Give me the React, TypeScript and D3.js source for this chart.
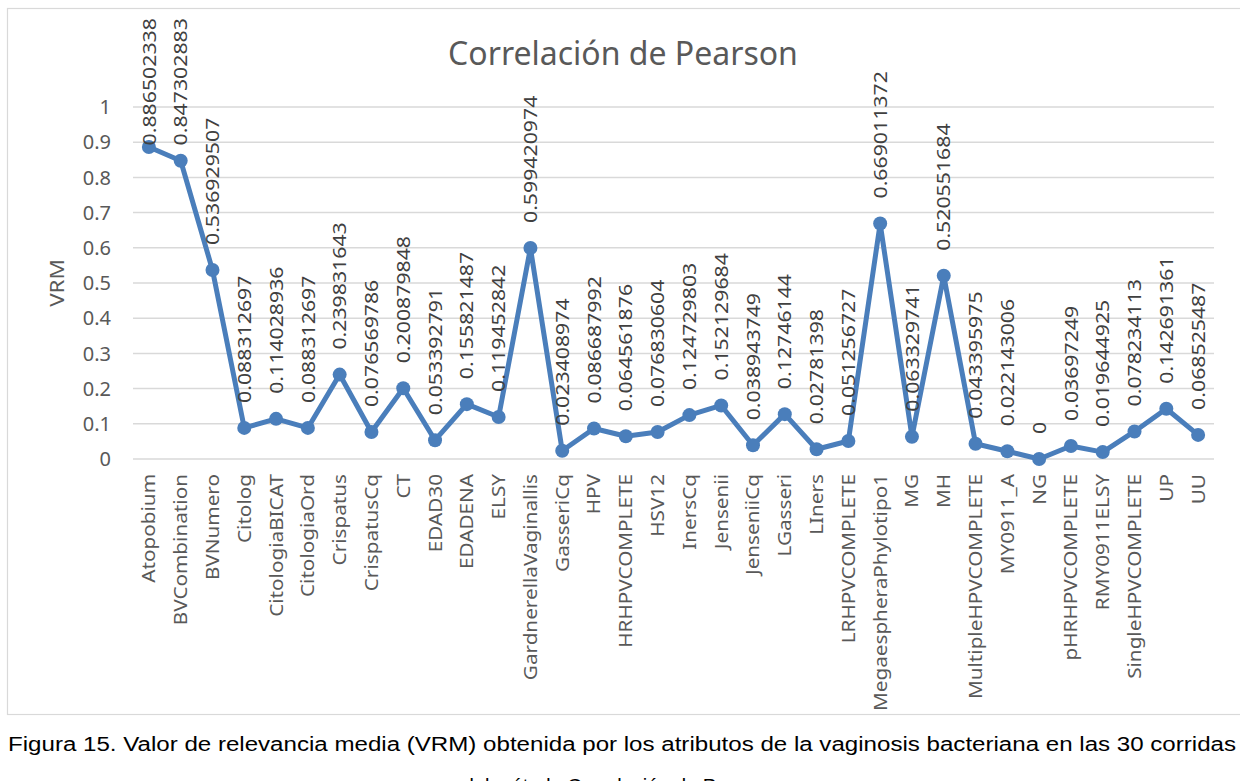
import React, { useEffect, useRef } from "react";
import * as d3 from "d3";

const categories: string[] = [
  "Atopobium", "BVCombination", "BVNumero", "Citolog", "CitologiaBICAT", "CitologiaOrd",
  "Crispatus", "CrispatusCq", "CT", "EDAD30", "EDADENA", "ELSY", "GardnerellaVaginallis",
  "GasseriCq", "HPV", "HRHPVCOMPLETE", "HSV12", "InersCq", "Jensenii", "JenseniiCq",
  "LGasseri", "LIners", "LRHPVCOMPLETE", "MegaespheraPhylotipo1", "MG", "MH",
  "MultipleHPVCOMPLETE", "MY0911_A", "NG", "pHRHPVCOMPLETE", "RMY0911ELSY",
  "SingleHPVCOMPLETE", "UP", "UU",
];

const vrm: number[] = [
  0.886502338, 0.847302883, 0.536929507, 0.088312697, 0.114028936, 0.088312697,
  0.239831643, 0.076569786, 0.200879848, 0.053392791, 0.155821487, 0.119452842,
  0.599420974, 0.023408974, 0.086687992, 0.064561876, 0.076830604, 0.124729803,
  0.152129684, 0.038943749, 0.12746144, 0.02781398, 0.051256727, 0.669011372,
  0.063329741, 0.520551684, 0.043395975, 0.022143006, 0, 0.03697249, 0.019644925,
  0.078234113, 0.142691361, 0.068525487,
];

const vrmLabels: string[] = [
  "0.886502338", "0.847302883", "0.536929507", "0.088312697", "0.114028936", "0.088312697",
  "0.239831643", "0.076569786", "0.200879848", "0.053392791", "0.155821487", "0.119452842",
  "0.599420974", "0.023408974", "0.086687992", "0.064561876", "0.076830604", "0.124729803",
  "0.152129684", "0.038943749", "0.12746144", "0.02781398", "0.051256727", "0.669011372",
  "0.063329741", "0.520551684", "0.043395975", "0.022143006", "0", "0.03697249", "0.019644925",
  "0.078234113", "0.142691361", "0.068525487",
];

const yTicks: number[] = [0, 0.1, 0.2, 0.3, 0.4, 0.5, 0.6, 0.7, 0.8, 0.9, 1];

const chartTitle = "Correlación de Pearson";
const yTitle = "VRM";
const captionLine1 =
  "Figura 15. Valor de relevancia media (VRM) obtenida por los atributos de la vaginosis bacteriana en las 30 corridas";
const captionLine2 = "del método Correlación de Pearson";

const W = 1240;
const H = 781;
const plot = { left: 133, right: 1214, top: 107, bottom: 459 };
const FONT = "'Noto Sans', 'Open Sans', sans-serif";
const CAPTION_FONT = "'Liberation Sans', Arial, sans-serif";
const LINE_COLOR = "#4a7ebb";
// vertical texts are drawn slightly elongated along their reading direction
const VSTRETCH = 1.12;

export default function App() {
  const ref = useRef<SVGSVGElement | null>(null);

  useEffect(() => {
    const svg = d3.select(ref.current);
    svg.selectAll("*").remove();

    const x = d3.scaleBand<string>().domain(categories).range([plot.left, plot.right]);
    const y = d3.scaleLinear().domain([0, 1]).range([plot.bottom, plot.top]);
    const cx = (c: string) => (x(c) as number) + x.bandwidth() / 2;

    // chart frame
    svg.append("rect")
      .attr("x", 7.5).attr("y", 8.5)
      .attr("width", W).attr("height", 706)
      .attr("fill", "#fff").attr("stroke", "#d9d9d9").attr("stroke-width", 1.2);

    // title
    svg.append("text")
      .attr("x", 623).attr("y", 65)
      .attr("text-anchor", "middle")
      .attr("font-family", FONT).attr("font-size", 32)
      .attr("fill", "#595959")
      .text(chartTitle);

    // gridlines
    svg.append("g").selectAll("line").data(yTicks).join("line")
      .attr("x1", plot.left).attr("x2", plot.right)
      .attr("y1", (d) => y(d)).attr("y2", (d) => y(d))
      .attr("stroke", "#d9d9d9").attr("stroke-width", 1.5);

    // y tick labels
    svg.append("g").selectAll("text").data(yTicks).join("text")
      .attr("x", 111).attr("y", (d) => y(d))
      .attr("dy", "0.36em")
      .attr("text-anchor", "end")
      .attr("font-family", FONT).attr("font-size", 20)
      .attr("fill", "#595959")
      .text((d) => d3.format("~g")(d));

    // y axis title
    svg.append("text")
      .attr("transform", `translate(57,${(plot.top + plot.bottom) / 2}) rotate(-90) scale(${VSTRETCH},1)`)
      .attr("text-anchor", "middle").attr("dy", "0.35em")
      .attr("font-family", FONT).attr("font-size", 20)
      .attr("fill", "#595959")
      .text(yTitle);

    // category labels
    svg.append("g").selectAll("text").data(categories).join("text")
      .attr("transform", (d) => `translate(${cx(d)},${plot.bottom + 15}) rotate(-90) scale(${VSTRETCH},1)`)
      .attr("text-anchor", "end").attr("dy", "0.35em")
      .attr("font-family", FONT).attr("font-size", 18.5)
      .attr("fill", "#595959")
      .text((d) => d);

    // series line
    const line = d3.line<number>()
      .x((_, i) => cx(categories[i]))
      .y((d) => y(d));
    svg.append("path")
      .datum(vrm)
      .attr("d", line)
      .attr("fill", "none")
      .attr("stroke", LINE_COLOR).attr("stroke-width", 5)
      .attr("stroke-linejoin", "round");

    // markers
    svg.append("g").selectAll("circle").data(vrm).join("circle")
      .attr("cx", (_, i) => cx(categories[i]))
      .attr("cy", (d) => y(d))
      .attr("r", 7)
      .attr("fill", LINE_COLOR);

    // data labels, placed above each point and kept inside the frame
    const labels = svg.append("g").selectAll("text").data(vrm).join("text")
      .attr("text-anchor", "start").attr("dy", "0.35em")
      .attr("font-family", FONT).attr("font-size", 19)
      .attr("fill", "#404040")
      .text((_, i) => vrmLabels[i]);
    labels.each(function (d, i) {
      const el = this as SVGTextElement;
      const len = el.getComputedTextLength() * VSTRETCH;
      const bottom = Math.max(y(d) - 25, 18 + len);
      d3.select(el).attr(
        "transform",
        `translate(${cx(categories[i])},${bottom}) rotate(-90) scale(${VSTRETCH},1)`
      );
    });

    // figure caption
    svg.append("text")
      .attr("x", 8).attr("y", 751)
      .attr("font-family", CAPTION_FONT).attr("font-size", 20)
      .attr("fill", "#000")
      .attr("textLength", 1228).attr("lengthAdjust", "spacingAndGlyphs")
      .text(captionLine1);
    svg.append("text")
      .attr("x", 620).attr("y", 793)
      .attr("text-anchor", "middle")
      .attr("font-family", CAPTION_FONT).attr("font-size", 20)
      .attr("fill", "#000")
      .text(captionLine2);
  }, []);

  return (
    <svg
      ref={ref}
      width={W}
      height={H}
      style={{ position: "absolute", left: 0, top: 0, background: "#fff" }}
    />
  );
}
